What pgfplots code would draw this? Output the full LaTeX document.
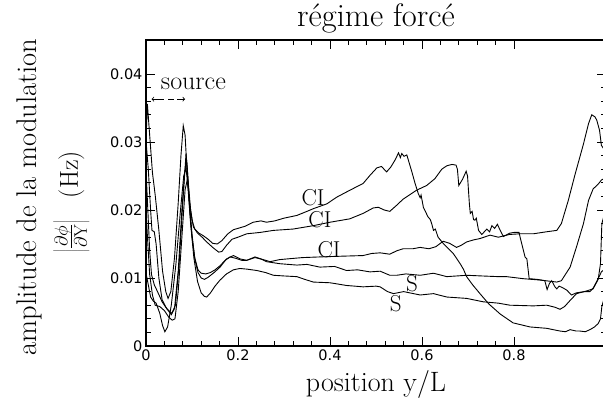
\documentclass[border=0pt]{standalone}
\usepackage{fix-cm}
\usepackage{fontspec}
\usepackage{pgfplots}
\pgfplotsset{compat=1.18}
\newfontfamily\tickfont{DejaVu Sans}

\begin{document}
\begin{tikzpicture}
\begin{axis}[
  scale only axis, width=460pt, height=306pt,
  xmin=0, xmax=1, ymin=0, ymax=0.045,
  scaled x ticks=false, scaled y ticks=false,
  xtick={0,0.2,0.4,0.6,0.8}, xticklabels={0,0.2,0.4,0.6,0.8},
  ytick={0,0.01,0.02,0.03,0.04}, yticklabels={0,0.01,0.02,0.03,0.04},
  minor x tick num=4, minor y tick num=4,
  tick align=inside, major tick length=9pt, minor tick length=5pt,
  ticklabel style={font=\tickfont\fontsize{14.5}{16}\selectfont},
  axis line style={line width=1.1pt},
  every tick/.style={line width=0.9pt, black},
  title={\fontsize{32.5}{36}\selectfont régime forcé},
  every axis title/.style={at={(0.5,1)}, anchor=base, yshift=13pt},
  xlabel={\fontsize{28}{32}\selectfont position y/L},
  every axis x label/.style={at={(0.5,0)}, anchor=base, yshift=-46pt},
  clip=false,
  cycle list={{black, line width=0.9pt, no marks}},
]
% Curve A (top CI)
\addplot[black, line width=0.9pt] coordinates {
(0.000,0.0300)(0.003,0.0356)(0.008,0.0310)(0.014,0.0255)(0.020,0.0222)(0.028,0.0170)
(0.036,0.0110)(0.043,0.0080)(0.048,0.0070)(0.054,0.0080)(0.062,0.0130)(0.070,0.0210)
(0.076,0.0280)(0.081,0.0324)(0.085,0.0310)(0.089,0.0260)(0.094,0.0215)(0.100,0.0185)
(0.106,0.0172)(0.115,0.0166)(0.125,0.0162)(0.135,0.0157)(0.145,0.0151)(0.155,0.0150)
(0.165,0.0155)(0.178,0.0165)(0.190,0.0171)(0.200,0.0173)(0.215,0.0176)(0.233,0.0182)
(0.250,0.0184)(0.262,0.0182)(0.280,0.0184)(0.300,0.0188)(0.328,0.0192)(0.350,0.0198)
(0.364,0.0202)(0.393,0.0209)(0.415,0.0219)(0.443,0.0229)(0.472,0.0239)(0.487,0.0251)
(0.502,0.0262)(0.512,0.0264)(0.523,0.0256)(0.532,0.0263)(0.541,0.0273)(0.549,0.0284)
(0.553,0.0277)(0.556,0.0283)(0.561,0.0279)(0.567,0.0281)(0.578,0.0256)(0.585,0.0239)
(0.592,0.0224)(0.596,0.0218)(0.598,0.0222)(0.603,0.0204)(0.613,0.0190)(0.618,0.0186)
(0.621,0.0180)(0.625,0.0170)(0.629,0.0172)(0.635,0.0160)(0.646,0.0151)(0.668,0.0136)
(0.683,0.0121)(0.690,0.0113)(0.697,0.0102)(0.710,0.0090)(0.726,0.0077)(0.745,0.0062)
(0.770,0.0047)(0.798,0.0034)(0.835,0.0028)(0.871,0.0026)(0.900,0.0022)(0.912,0.0021)
(0.922,0.0024)(0.935,0.0022)(0.943,0.0022)(0.955,0.0021)(0.965,0.0024)(0.975,0.0028)
(0.983,0.0033)(0.988,0.0040)(0.991,0.0058)(0.995,0.0068)(1.000,0.0075)
};
% Curve B (second CI)
\addplot[black, line width=0.9pt] coordinates {
(0.000,0.0302)(0.005,0.0260)(0.010,0.0200)(0.013,0.0170)(0.018,0.0168)(0.022,0.0150)
(0.028,0.0100)(0.035,0.0068)(0.045,0.0055)(0.055,0.0046)(0.062,0.0055)(0.070,0.0110)
(0.078,0.0200)(0.084,0.0255)(0.088,0.0275)(0.092,0.0240)(0.097,0.0200)(0.103,0.0175)
(0.112,0.0166)(0.122,0.0160)(0.132,0.0153)(0.145,0.0145)(0.158,0.0138)(0.165,0.0139)
(0.175,0.0148)(0.187,0.0157)(0.200,0.0160)(0.219,0.0165)(0.248,0.0167)(0.277,0.0170)
(0.320,0.0172)(0.364,0.0177)(0.400,0.0182)(0.443,0.0187)(0.472,0.0195)(0.494,0.0203)
(0.505,0.0204)(0.518,0.0200)(0.530,0.0198)(0.545,0.0207)(0.559,0.0216)(0.588,0.0229)
(0.610,0.0236)(0.628,0.0246)(0.643,0.0260)(0.654,0.0265)(0.665,0.0267)(0.674,0.0266)
(0.677,0.0260)(0.680,0.0236)(0.688,0.0245)(0.696,0.0257)(0.699,0.0250)(0.703,0.0209)
(0.705,0.0195)(0.709,0.0198)(0.712,0.0186)(0.715,0.0185)(0.718,0.0188)(0.723,0.0170)
(0.730,0.0164)(0.741,0.0172)(0.747,0.0168)(0.752,0.0177)(0.758,0.0173)(0.764,0.0179)
(0.770,0.0170)(0.777,0.0161)(0.791,0.0166)(0.800,0.0167)(0.811,0.0167)(0.814,0.0158)
(0.817,0.0150)(0.824,0.0131)(0.828,0.0128)(0.833,0.0099)(0.850,0.0098)(0.867,0.0096)
(0.872,0.0083)(0.877,0.0092)(0.882,0.0096)(0.889,0.0087)(0.893,0.0084)(0.898,0.0088)
(0.905,0.0086)(0.915,0.0082)(0.925,0.0075)(0.935,0.0078)(0.943,0.0079)(0.955,0.0080)
(0.965,0.0080)(0.972,0.0085)(0.983,0.0099)(0.990,0.0109)(1.000,0.0115)
};
% Curve C (third CI)
\addplot[black, line width=0.9pt] coordinates {
(0.000,0.0260)(0.004,0.0200)(0.008,0.0140)(0.012,0.0105)(0.018,0.0090)(0.025,0.0080)
(0.035,0.0065)(0.045,0.0055)(0.056,0.0048)(0.064,0.0060)(0.072,0.0120)(0.080,0.0210)
(0.087,0.0283)(0.090,0.0260)(0.095,0.0200)(0.100,0.0160)(0.106,0.0130)(0.113,0.0112)
(0.120,0.0107)(0.130,0.0106)(0.140,0.0108)(0.150,0.0112)(0.161,0.0118)(0.172,0.0126)
(0.183,0.0131)(0.195,0.0129)(0.208,0.0126)(0.219,0.0126)(0.237,0.0130)(0.255,0.0127)
(0.270,0.0124)(0.290,0.0127)(0.306,0.0128)(0.340,0.0130)(0.378,0.0131)(0.422,0.0132)
(0.472,0.0133)(0.490,0.0136)(0.509,0.0137)(0.530,0.0135)(0.545,0.0140)(0.559,0.0143)
(0.580,0.0143)(0.596,0.0145)(0.615,0.0143)(0.630,0.0146)(0.646,0.0154)(0.660,0.0151)
(0.675,0.0145)(0.685,0.0148)(0.697,0.0153)(0.712,0.0156)(0.726,0.0158)(0.748,0.0163)
(0.766,0.0160)(0.790,0.0164)(0.813,0.0165)(0.842,0.0165)(0.871,0.0168)(0.893,0.0170)
(0.903,0.0180)(0.918,0.0214)(0.933,0.0253)(0.951,0.0297)(0.962,0.0327)(0.969,0.0340)
(0.976,0.0337)(0.980,0.0332)(0.986,0.0317)(0.990,0.0295)(1.000,0.0285)
};
% Curve D (upper S)
\addplot[black, line width=0.9pt] coordinates {
(0.000,0.0200)(0.004,0.0150)(0.008,0.0105)(0.014,0.0075)(0.020,0.0060)(0.030,0.0058)
(0.040,0.0052)(0.050,0.0042)(0.057,0.0038)(0.063,0.0040)(0.070,0.0080)(0.078,0.0160)
(0.085,0.0230)(0.090,0.0245)(0.094,0.0215)(0.100,0.0165)(0.106,0.0128)(0.113,0.0108)
(0.120,0.0100)(0.127,0.0098)(0.135,0.0101)(0.148,0.0108)(0.161,0.0116)(0.175,0.0128)
(0.190,0.0133)(0.205,0.0128)(0.219,0.0126)(0.237,0.0131)(0.250,0.0128)(0.262,0.0124)
(0.291,0.0121)(0.328,0.0119)(0.350,0.0120)(0.378,0.0116)(0.410,0.0117)(0.436,0.0111)
(0.460,0.0112)(0.487,0.0109)(0.509,0.0110)(0.530,0.0104)(0.545,0.0104)(0.565,0.0106)
(0.596,0.0104)(0.625,0.0107)(0.654,0.0102)(0.697,0.0104)(0.730,0.0103)(0.766,0.0102)
(0.784,0.0102)(0.820,0.0099)(0.857,0.0097)(0.893,0.0094)(0.903,0.0096)(0.922,0.0116)
(0.936,0.0146)(0.951,0.0180)(0.962,0.0214)(0.972,0.0231)(0.983,0.0238)(0.990,0.0244)
(1.000,0.0248)
};
% Curve E (lower S)
\addplot[black, line width=0.9pt] coordinates {
(0.000,0.0107)(0.005,0.0090)(0.010,0.0072)(0.016,0.0066)(0.022,0.0063)(0.030,0.0048)
(0.036,0.0030)(0.041,0.0021)(0.047,0.0028)(0.055,0.0060)(0.065,0.0120)(0.075,0.0200)
(0.082,0.0250)(0.087,0.0262)(0.091,0.0235)(0.097,0.0180)(0.104,0.0130)(0.112,0.0095)
(0.120,0.0078)(0.127,0.0073)(0.132,0.0072)(0.140,0.0078)(0.150,0.0088)(0.161,0.0097)
(0.175,0.0106)(0.190,0.0112)(0.204,0.0114)(0.220,0.0113)(0.241,0.0111)(0.260,0.0108)
(0.277,0.0104)(0.300,0.0103)(0.328,0.0102)(0.345,0.0098)(0.364,0.0094)(0.400,0.0093)
(0.436,0.0089)(0.472,0.0087)(0.500,0.0088)(0.509,0.0087)(0.525,0.0080)(0.538,0.0077)
(0.560,0.0080)(0.596,0.0075)(0.625,0.0077)(0.654,0.0072)(0.697,0.0070)(0.733,0.0065)
(0.766,0.0063)(0.791,0.0060)(0.842,0.0059)(0.871,0.0060)(0.889,0.0057)(0.900,0.0054)
(0.910,0.0058)(0.922,0.0067)(0.936,0.0077)(0.958,0.0081)(0.972,0.0084)(0.983,0.0098)
(0.988,0.0121)(0.991,0.0180)(0.995,0.0190)(1.000,0.0195)
};
% annotations
\node[font=\fontsize{23}{26}\selectfont] at (axis cs:0.363,0.0218) {CI};
\node[font=\fontsize{23}{26}\selectfont] at (axis cs:0.378,0.0186) {CI};
\node[font=\fontsize{23}{26}\selectfont] at (axis cs:0.398,0.0142) {CI};
\node[font=\fontsize{23}{26}\selectfont] at (axis cs:0.578,0.0091) {S};
\node[font=\fontsize{23}{26}\selectfont] at (axis cs:0.543,0.0062) {S};
\node[font=\fontsize{26}{30}\selectfont] at (axis cs:0.103,0.0386) {source};
\draw[<->, line width=0.8pt, dash pattern=on 12pt off 4pt on 6pt off 3pt]
  (axis cs:0.012,0.0363) -- (axis cs:0.085,0.0363);
% y label (two lines)
\node[rotate=90, anchor=base, font=\fontsize{28.5}{32}\selectfont]
  at (rel axis cs:-0.239,0.487) {amplitude de la modulation};
\node[rotate=90, anchor=base, font=\fontsize{26}{30}\selectfont]
  at (rel axis cs:-0.148,0.472) {$\left|\frac{\partial\phi}{\partial\mathrm{Y}}\right|$\hspace{22pt}(Hz)};
\end{axis}
\pgfresetboundingbox
\useasboundingbox (-146pt,-52pt) rectangle (457pt,346pt);
\end{tikzpicture}
\end{document}
